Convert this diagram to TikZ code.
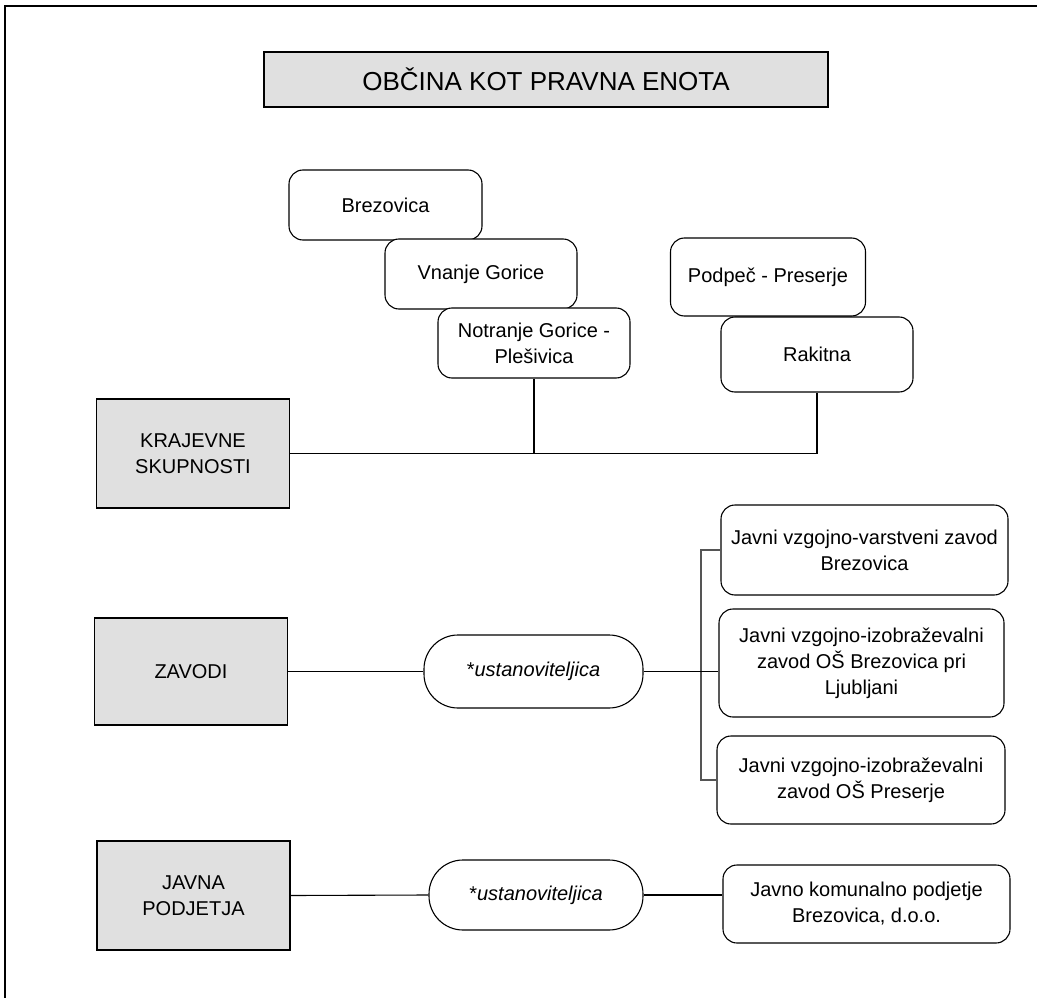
\documentclass[tikz,border=0pt]{standalone}
\usepackage{fontspec}
\setmainfont{Liberation Sans}
\definecolor{boxgray}{HTML}{E0E0E0}
\definecolor{linegray}{HTML}{555555}
\newcommand\bodyfnt{\fontsize{20}{26}\selectfont}
\newcommand\titlefnt{\fontsize{26}{30}\selectfont}
\tikzset{
  graybox/.style={draw=black, fill=boxgray, line width=1.3pt, inner sep=0pt, align=center, font=\bodyfnt},
  rbox/.style={draw=black, fill=white, rounded corners=14pt, line width=1.1pt, inner sep=0pt, align=center, font=\bodyfnt},
  stad/.style={draw=black, fill=white, rounded corners=34pt, line width=1.1pt, inner sep=0pt, align=center, font=\bodyfnt},
  conn/.style={draw=black, line width=1.1pt},
  bar/.style={draw=linegray, line width=1.1pt}
}
\begin{document}
\begin{tikzpicture}[x=1pt, y=-1pt]
\useasboundingbox (0,0) rectangle (1037,998);
% frame
\draw[line width=2pt] (5,998) -- (5,6) -- (1037,6);
% title
\node[graybox, font=\titlefnt, minimum width=564pt, minimum height=55pt] (title) at (546,79.5) {OBČINA KOT PRAVNA ENOTA};
% krajevne skupnosti
\node[rbox, minimum width=193pt, minimum height=70pt] (brez) at (385.5,205) {Brezovica};
\node[rbox, minimum width=192pt, minimum height=70pt] (vnanje) at (481,274) {Vnanje Gorice};
\node[rbox, minimum width=192pt, minimum height=70pt] (notr) at (534,343) {Notranje Gorice -\\Plešivica};
\node[rbox, minimum width=195pt, minimum height=78pt] (podpec) at (768,277) {Podpeč - Preserje};
\node[rbox, minimum width=192pt, minimum height=75pt] (rakitna) at (817,354.5) {Rakitna};
\node[graybox, minimum width=193pt, minimum height=109pt] (kraj) at (193,453.5) {KRAJEVNE\\SKUPNOSTI};
\draw[conn] (kraj.east) -- (kraj.east -| rakitna.south) -- (rakitna.south);
\draw[conn] (notr.south) -- (notr.south |- kraj.east);
% zavodi
\node[graybox, minimum width=193pt, minimum height=107pt] (zav) at (191,671.5) {ZAVODI};
\node[stad, minimum width=219pt, minimum height=73pt] (ust1) at (533.5,671.5) {*\textit{ustanoviteljica}};
\node[rbox, minimum width=287pt, minimum height=90pt] (z1) at (864.5,550) {Javni vzgojno-varstveni zavod\\Brezovica};
\node[rbox, minimum width=285pt, minimum height=108pt] (z2) at (861.5,663) {Javni vzgojno-izobraževalni\\zavod OŠ Brezovica pri\\Ljubljani};
\node[rbox, minimum width=288pt, minimum height=88pt] (z3) at (861,780) {Javni vzgojno-izobraževalni\\zavod OŠ Preserje};
\coordinate (bt) at (701,550);
\coordinate (bb) at (701,780);
\draw[conn] (zav.east) -- (ust1.west);
\draw[bar] (z1.west) -- (bt) -- (bb) -- (z3.west);
\draw[conn] (ust1.east) -- (ust1.east -| z2.west);
% javna podjetja
\node[graybox, minimum width=193pt, minimum height=109pt] (javna) at (193.5,895.5) {JAVNA\\PODJETJA};
\node[stad, minimum width=214pt, minimum height=70pt] (ust2) at (536,895) {*\textit{ustanoviteljica}};
\node[rbox, minimum width=287pt, minimum height=78pt] (jkp) at (866.5,904) {Javno komunalno podjetje\\Brezovica, d.o.o.};
\draw[conn] (javna.east) -- (ust2.west);
\draw[conn] (ust2.east) -- (ust2.east -| jkp.west);
\end{tikzpicture}
\end{document}
